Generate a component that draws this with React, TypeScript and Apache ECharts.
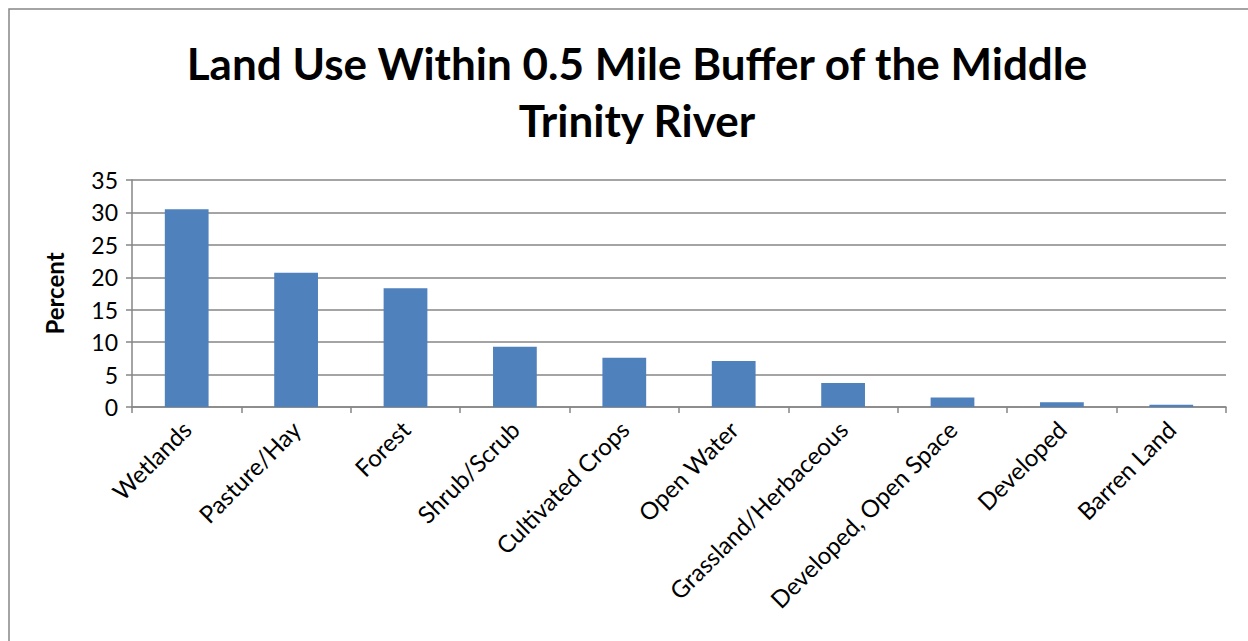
import React, { useEffect, useRef } from "react";
import * as echarts from "echarts";

const categories = [
  "Wetlands",
  "Pasture/Hay",
  "Forest",
  "Shrub/Scrub",
  "Cultivated Crops",
  "Open Water",
  "Grassland/Herbaceous",
  "Developed, Open Space",
  "Developed",
  "Barren Land",
];
const percentValues = [30.5, 20.7, 18.3, 9.3, 7.6, 7.1, 3.7, 1.45, 0.75, 0.35];
const titleText = "Land Use Within 0.5 Mile Buffer of the Middle\nTrinity River";
const yAxisName = "Percent";

export default function App() {
  const ref = useRef<HTMLDivElement>(null);
  useEffect(() => {
    if (!ref.current) return;
    const chart = echarts.init(ref.current, undefined, { renderer: "svg" });
    const font = "Lato, 'Open Sans', sans-serif";
    chart.setOption({
      animation: false,
      backgroundColor: "#ffffff",
      title: {
        text: titleText,
        left: 632,
        top: 29,
        textAlign: "center",
        textStyle: {
          fontFamily: font,
          fontWeight: "bold",
          fontSize: 44,
          lineHeight: 57,
          color: "#000000",
        },
      },
      graphic: [
        {
          type: "rect",
          shape: { x: 9, y: 9, width: 1300, height: 700 },
          style: { fill: "none", stroke: "#868686", lineWidth: 1.5 },
          silent: true,
        },
      ],
      grid: { left: 132, right: 22, top: 180, bottom: 234, containLabel: false },
      xAxis: {
        type: "category",
        data: categories,
        boundaryGap: true,
        axisLine: { lineStyle: { color: "#868686", width: 1.5 } },
        axisTick: { show: true, length: 6, alignWithLabel: false, lineStyle: { color: "#868686", width: 1.5 } },
        axisLabel: {
          rotate: 45,
          interval: 0,
          margin: 18,
          fontFamily: font,
          fontSize: 24,
          color: "#000000",
        },
      },
      yAxis: {
        type: "value",
        min: 0,
        max: 35,
        interval: 5,
        name: yAxisName,
        nameLocation: "middle",
        nameGap: 66,
        nameRotate: 90,
        nameTextStyle: { fontFamily: font, fontWeight: "bold", fontSize: 24, color: "#000000" },
        axisLine: { show: true, lineStyle: { color: "#868686", width: 1.5 } },
        axisTick: { show: true, length: 6, lineStyle: { color: "#868686", width: 1.5 } },
        splitLine: { show: true, lineStyle: { color: "#868686", width: 1.5 } },
        axisLabel: { fontFamily: font, fontSize: 23, color: "#000000", margin: 14 },
      },
      series: [
        {
          type: "bar",
          data: percentValues,
          barWidth: "40%",
          itemStyle: { color: "#4F81BD" },
        },
      ],
    });
    return () => chart.dispose();
  }, []);
  return (
    <div
      ref={ref}
      style={{ position: "absolute", left: 0, top: 0, width: 1248, height: 641 }}
    />
  );
}
